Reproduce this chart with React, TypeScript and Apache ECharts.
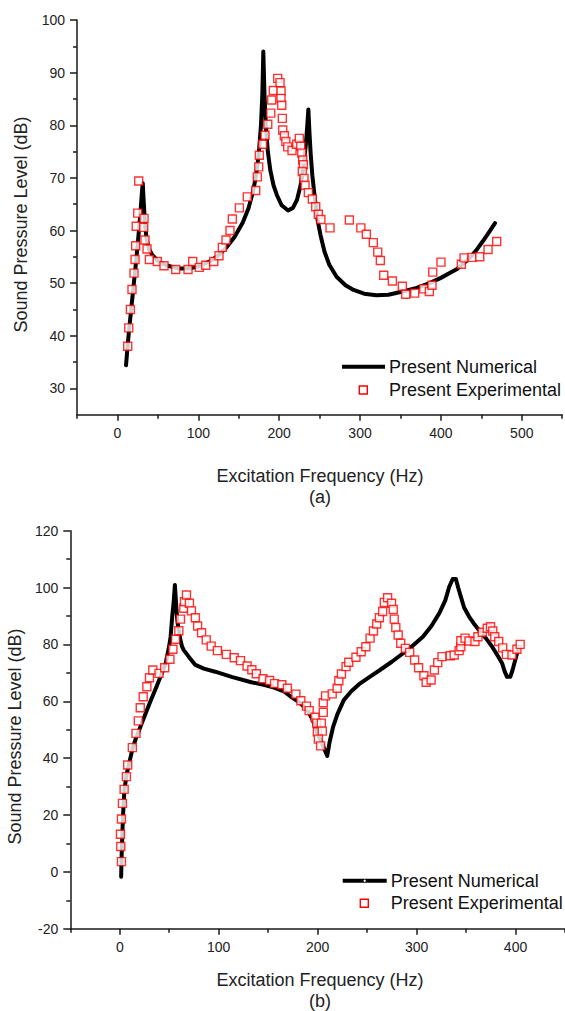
import React, { useEffect, useRef } from "react";
import * as echarts from "echarts";

// ---------- Data: chart (a) ----------
const numericalA: [number, number][] = [
  [10.6, 34.4], [14, 40.5], [17, 45], [20, 49.5], [23, 54], [26, 59], [28.5, 63.5], [30.3, 67.3], [31.3, 69],
  [32.5, 65.5], [34, 61.5], [36, 58.4], [39, 56.5], [43, 55.4], [50, 54.2], [60, 53.4], [75, 52.8], [90, 52.8],
  [102, 53.3], [115, 54.2], [125, 55.3], [135, 56.8], [145, 58.8], [155, 61.5], [162, 64.2], [168, 67.6],
  [172, 71], [175, 75], [177.5, 80], [179.2, 86], [180.4, 94], [181.8, 86], [183.5, 80], [186, 75], [189, 71.5],
  [193, 68.6], [197, 66.8], [203, 64.8], [211, 63.8], [217, 64.3], [222, 65.8], [226.5, 68.6], [230, 72],
  [232.8, 76], [234.8, 80], [236.1, 83], [237.5, 78.5], [239, 74.5], [241, 70.5], [244, 66.3], [247.5, 62],
  [251, 59.2], [256, 56], [262, 53.5], [271, 51.2], [282, 49.6], [292, 48.7], [305, 48], [320, 47.7],
  [335, 47.8], [353, 48.4], [370, 49.1], [386, 50], [400, 51], [412, 52], [420, 52.7], [430, 54], [438, 55.2],
  [445, 56.5], [452, 58], [460, 59.8], [466.9, 61.4],
];

const experimentalA: [number, number][] = [
  [12.7, 38.0], [14, 41.5], [16, 45], [18, 48.8], [20.5, 51.9], [21.8, 54.5], [22.6, 57.1], [23.2, 60.8],
  [25.1, 63.3], [26.3, 69.4], [32.5, 60.6], [32.9, 62.3], [34.1, 58.2], [36.6, 56.5], [39.5, 54.5],
  [49.3, 54.1], [57.6, 53.3], [72.1, 52.6], [87.3, 52.6], [93.1, 54.1], [101.3, 53], [109.2, 53.4],
  [119.1, 54.1], [125.6, 55.2], [129.7, 56.8], [134.3, 58.2], [139.2, 60], [142.1, 62.2], [150.8, 64.3],
  [160.6, 66.4], [171, 67.6], [173, 70.2], [174.7, 72.1], [175.5, 74.3], [179.7, 76.4], [182.5, 78.1],
  [185.9, 80.2], [189.6, 82.3], [190.8, 84.8], [192.8, 86.6], [198.2, 88.9], [201.1, 88.1], [202.3, 86.5],
  [202.3, 85.1], [203.2, 83.8], [203.9, 81.3], [204.4, 79.1], [206.4, 78], [208.3, 76.9], [210.6, 75.9],
  [215.9, 75.2], [221.7, 76.4], [224.9, 77.5], [226.7, 76], [227.9, 74.7], [229.1, 73.4], [229.9, 72.5],
  [228.6, 71.2], [230.7, 69.9], [232, 68.6], [236.1, 67.2], [241, 66], [245.2, 64.5], [248.4, 63.1],
  [251.6, 62.1], [262.9, 60.5], [286.8, 62], [301, 60.5], [307.8, 59.3], [316.4, 57.7], [321.9, 55.9],
  [325.1, 54.3], [329.3, 51.5], [340, 50.4], [352.3, 49.4], [356.5, 47.9], [367.6, 48.1], [378.8, 48.9],
  [385.7, 48.4], [389, 49.6], [389.9, 52.1], [400.1, 54], [425.3, 53.6], [428.6, 54.8], [438.5, 54.9],
  [448, 55], [458.3, 56.4], [469, 57.9],
];

const xMajorA = [0, 100, 200, 300, 400, 500];
const xMinorA = [-50, 50, 150, 250, 350, 450, 550];
const yMajorA = [30, 40, 50, 60, 70, 80, 90, 100];
const yMinorA = [35, 45, 55, 65, 75, 85, 95];

// ---------- Data: chart (b) ----------
const numericalB: [number, number][] = [
  [1.4, -1.7], [1.8, 5], [2.4, 11.2], [3.3, 20], [4.7, 28.8], [7, 34.5], [9.7, 38.5], [13, 43.5], [16.4, 47],
  [19.7, 50], [23, 53], [26.4, 56], [31, 60], [36.4, 64.5], [41, 68.5], [46.4, 73.4], [49.7, 79], [51.4, 82.7],
  [53, 89.8], [54.5, 95], [55.7, 100.9], [57, 94], [58, 89], [59, 86.2], [61, 82], [63, 79.2], [64.7, 78],
  [69.7, 75.7], [76.4, 72.8], [85, 71.5], [96.4, 70.4], [113, 68.6], [133, 66.7], [146.4, 65.7], [156, 64.8],
  [166.4, 63.4], [173, 61.6], [182, 59.5], [189.7, 56.9], [195, 53.5], [199.7, 48.7], [204, 45.5], [209.7, 40.8],
  [212, 45.5], [215.7, 51.1], [220, 55.5], [226.4, 60.4], [234, 63.5], [243, 66.3], [253, 68.7], [263, 71],
  [275, 73.9], [286.4, 76.9], [296, 79.5], [306.4, 82.7], [315, 86.5], [323, 91], [329, 95.5], [333, 100.3],
  [336.5, 103], [339.7, 103], [342, 100], [344.7, 96.8], [348, 93], [353, 89.8], [358, 87.3], [363, 85.1],
  [370, 82.2], [376.4, 79.2], [382, 76], [386.4, 73.4], [389, 70.5], [391.4, 68.6], [394.7, 68.6], [397, 71],
  [399.7, 74.5], [403, 78.6],
];

const experimentalB: [number, number][] = [
  [1.7, 3.6], [1, 8.9], [0.7, 13.2], [1.7, 18.6], [2.7, 24.1], [4.4, 29], [6.7, 33.5], [8, 37.6], [12.7, 43.7],
  [16.4, 48.7], [18.7, 53.1], [20.7, 57.7], [23.7, 61.6], [27.4, 65.1], [30, 68.3], [33.4, 71], [39.7, 69.8],
  [45.4, 71.8], [50.7, 74.8], [53.7, 78.3], [56.4, 81.8], [59.7, 84.8], [61.4, 88.9], [64.7, 92.7], [65.4, 95],
  [67.4, 97.4], [70.4, 94.5], [72.4, 91.8], [76.4, 89.4], [78.7, 86.5], [82.7, 84.1], [87.4, 81.6], [92.4, 79.4],
  [98.7, 77.8], [107.7, 76.5], [115.7, 75.3], [122, 74.3], [128.7, 72.4], [133.5, 71.1], [138, 69.7],
  [144.8, 67.9], [151.4, 67.3], [156.4, 66.2], [163.8, 65.8], [169.4, 64.6], [178, 62.5], [183, 60.2],
  [188.7, 58.3], [191.4, 56.7], [197.4, 54.4], [199, 52.3], [203.7, 52.3], [199.7, 49.3], [204.7, 49.5],
  [200.7, 46.7], [203, 44.3], [205.7, 56.1], [205.7, 59.5], [208, 61.9], [214.7, 62.6], [219.7, 64.6],
  [221.4, 67.2], [224, 69.6], [228.7, 72.2], [231.4, 73.7], [238.7, 75.5], [244, 77.4], [248.7, 79.2],
  [253, 82.2], [256.4, 84.7], [259.7, 87.2], [262.4, 89.4], [265.7, 91.6], [267.4, 94.8], [270.7, 96.4],
  [274.7, 94.5], [276.4, 92.3], [277.4, 88.9], [279, 85.9], [281.4, 83.3], [284, 80.4], [288.7, 78.6],
  [293, 77.2], [298, 74.5], [302, 71.8], [307.4, 69], [309.7, 66.7], [314.7, 67.5], [318, 71], [321.4, 73.6],
  [325.7, 75.7], [334, 76], [338, 76.3], [343, 77.8], [344.7, 79.2], [344.7, 81.3], [349, 82.2], [353, 81.2],
  [359, 81], [362, 82.7], [366.4, 84.3], [371.4, 85.7], [374.7, 86.2], [377, 84.7], [379, 82.7], [383, 81],
  [387, 78.8], [390.7, 76.5], [396.4, 76.3], [401.4, 78.3], [404.7, 80],
];

const xMajorB = [0, 100, 200, 300, 400];
const xMinorB = [-50, 50, 150, 250, 350, 450];
const yMajorB = [-20, 0, 20, 40, 60, 80, 100, 120];
const yMinorB = [-10, 10, 30, 50, 70, 90, 110];

const NAME_NUM = "Present Numerical";
const NAME_EXP = "Present Experimental";

const FONT = '"Liberation Sans", Arial, Helvetica, sans-serif';
const AXIS_COLOR = "#1a1a1a";
const TEXT_COLOR = "#222";

function mainAxis(gridIndex: number, min: number, max: number, ticks: number[], isX: boolean) {
  return {
    type: "value",
    gridIndex,
    min,
    max,
    position: isX ? "bottom" : "left",
    axisLine: { show: true, onZero: false, lineStyle: { color: AXIS_COLOR, width: 1.5 } },
    axisTick: { show: true, customValues: ticks, length: isX ? 6 : 7, lineStyle: { color: AXIS_COLOR, width: 1.5 } },
    axisLabel: {
      show: true,
      customValues: ticks,
      margin: isX ? 11 : 12,
      color: TEXT_COLOR,
      fontSize: 14,
      fontFamily: FONT,
    },
    splitLine: { show: false },
  };
}

function minorAxis(gridIndex: number, min: number, max: number, ticks: number[], isX: boolean) {
  return {
    type: "value",
    gridIndex,
    min,
    max,
    position: isX ? "bottom" : "left",
    axisLine: { show: false, onZero: false },
    axisTick: { show: true, customValues: ticks, length: 4, lineStyle: { color: AXIS_COLOR, width: 1.5 } },
    axisLabel: { show: false },
    splitLine: { show: false },
  };
}

export default function App() {
  const ref = useRef<HTMLDivElement>(null);

  useEffect(() => {
    if (!ref.current) return;
    const chart = echarts.init(ref.current, undefined, { renderer: "svg" });

    const lineStyleNum = { color: "#000", width: 4, join: "round", cap: "round" };
    const scatterStyle = { color: "#ffffff", borderColor: "#ff0000", borderWidth: 1.4 };

    const titleStyle = { fontSize: 18, fontFamily: FONT, fill: TEXT_COLOR };
    const legendText = { fontSize: 18, fontFamily: FONT, fill: "#111" };

    chart.setOption({
      animation: false,
      backgroundColor: "#ffffff",
      grid: [
        { left: 77, top: 20, width: 485.2, height: 394.7, containLabel: false },
        { left: 70.3, top: 530.7, width: 500, height: 398, containLabel: false },
      ],
      xAxis: [
        mainAxis(0, -50, 550, xMajorA, true),
        minorAxis(0, -50, 550, xMinorA, true),
        mainAxis(1, -50, 450, xMajorB, true),
        minorAxis(1, -50, 450, xMinorB, true),
      ],
      yAxis: [
        mainAxis(0, 25, 100, yMajorA, false),
        minorAxis(0, 25, 100, yMinorA, false),
        mainAxis(1, -20, 120, yMajorB, false),
        minorAxis(1, -20, 120, yMinorB, false),
      ],
      series: [
        {
          type: "line",
          name: NAME_NUM,
          xAxisIndex: 0,
          yAxisIndex: 0,
          data: numericalA,
          symbol: "none",
          showSymbol: false,
          lineStyle: lineStyleNum,
          z: 2,
        },
        {
          type: "scatter",
          name: NAME_EXP,
          xAxisIndex: 0,
          yAxisIndex: 0,
          data: experimentalA,
          symbol: "rect",
          symbolSize: 8,
          itemStyle: scatterStyle,
          z: 3,
        },
        {
          type: "line",
          name: NAME_NUM,
          xAxisIndex: 2,
          yAxisIndex: 2,
          data: numericalB,
          symbol: "none",
          showSymbol: false,
          lineStyle: lineStyleNum,
          z: 2,
        },
        {
          type: "scatter",
          name: NAME_EXP,
          xAxisIndex: 2,
          yAxisIndex: 2,
          data: experimentalB,
          symbol: "rect",
          symbolSize: 8,
          itemStyle: scatterStyle,
          z: 3,
        },
      ],
      graphic: [
        // axis titles (a)
        {
          type: "text",
          x: 21,
          y: 224.5,
          rotation: Math.PI / 2,
          style: { ...titleStyle, text: "Sound Pressure Level (dB)", align: "center", verticalAlign: "middle" },
        },
        {
          type: "text",
          x: 320,
          y: 476,
          style: { ...titleStyle, text: "Excitation Frequency (Hz)", align: "center", verticalAlign: "middle" },
        },
        {
          type: "text",
          x: 320,
          y: 497,
          style: { ...titleStyle, text: "(a)", align: "center", verticalAlign: "middle" },
        },
        // axis titles (b)
        {
          type: "text",
          x: 15,
          y: 736.5,
          rotation: Math.PI / 2,
          style: { ...titleStyle, text: "Sound Pressure Level (dB)", align: "center", verticalAlign: "middle" },
        },
        {
          type: "text",
          x: 320,
          y: 980,
          style: { ...titleStyle, text: "Excitation Frequency (Hz)", align: "center", verticalAlign: "middle" },
        },
        {
          type: "text",
          x: 320,
          y: 1000.5,
          style: { ...titleStyle, text: "(b)", align: "center", verticalAlign: "middle" },
        },
        // legend (a)
        {
          type: "line",
          shape: { x1: 342, y1: 366.7, x2: 385, y2: 366.7 },
          style: { stroke: "#000", lineWidth: 4 },
        },
        {
          type: "text",
          x: 389,
          y: 366.7,
          style: { ...legendText, text: NAME_NUM, align: "left", verticalAlign: "middle" },
        },
        {
          type: "rect",
          shape: { x: 359.3, y: 386, width: 8, height: 8 },
          style: { fill: "#fff", stroke: "#ff0000", lineWidth: 1.4 },
        },
        {
          type: "text",
          x: 389,
          y: 390,
          style: { ...legendText, text: NAME_EXP, align: "left", verticalAlign: "middle" },
        },
        // legend (b)
        {
          type: "line",
          shape: { x1: 342.7, y1: 880.7, x2: 386.7, y2: 880.7 },
          style: { stroke: "#000", lineWidth: 4 },
        },
        {
          type: "circle",
          shape: { cx: 364.7, cy: 880.7, r: 1.2 },
          style: { fill: "#fff" },
        },
        {
          type: "text",
          x: 390.7,
          y: 880.7,
          style: { ...legendText, text: NAME_NUM, align: "left", verticalAlign: "middle" },
        },
        {
          type: "rect",
          shape: { x: 360.3, y: 899.3, width: 8, height: 8 },
          style: { fill: "#fff", stroke: "#ff0000", lineWidth: 1.4 },
        },
        {
          type: "text",
          x: 390.7,
          y: 903.3,
          style: { ...legendText, text: NAME_EXP, align: "left", verticalAlign: "middle" },
        },
      ],
    });

    return () => {
      chart.dispose();
    };
  }, []);

  return (
    <div
      ref={ref}
      style={{ position: "absolute", left: 0, top: 0, width: 565, height: 1011, background: "#fff" }}
    />
  );
}
